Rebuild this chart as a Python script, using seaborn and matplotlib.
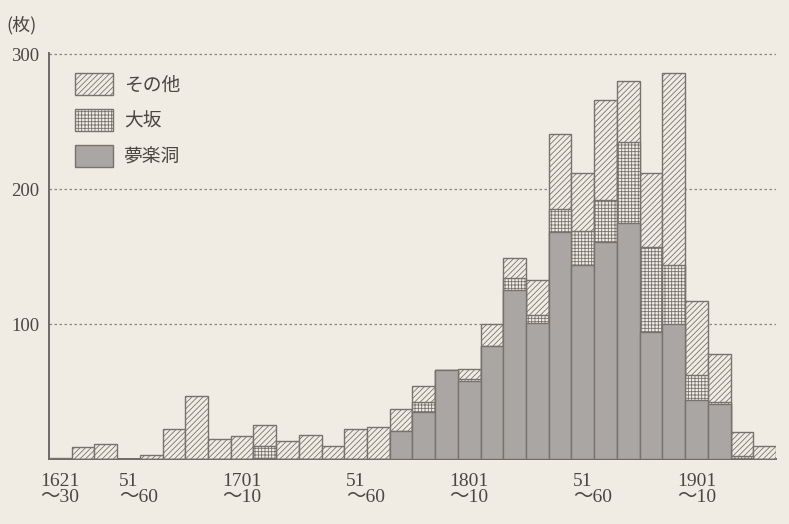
import numpy as np
import pandas as pd
import seaborn as sns
import matplotlib.pyplot as plt
from matplotlib.patches import Patch
from matplotlib.transforms import ScaledTranslation

# decades 1621-30 ... 1931-40
decades = [str(1621 + 10 * i) for i in range(32)]
muraku = [0, 0, 0, 0, 0, 0, 0, 0, 0, 1, 0, 0, 0, 0, 0, 21,
          35, 66, 58, 84, 125, 101, 168, 144, 161, 175, 94, 100, 44, 41, 0, 0]
osaka = [0, 0, 0, 0, 0, 0, 0, 0, 0, 9, 0, 0, 0, 0, 0, 0,
         7, 0, 1, 0, 9, 6, 17, 25, 31, 60, 63, 44, 18, 1, 2, 0]
other = [1, 9, 11, 0, 3, 22, 47, 15, 17, 15, 13, 18, 10, 22, 24, 16,
         12, 0, 8, 16, 15, 26, 56, 43, 74, 45, 55, 142, 55, 36, 18, 10]
names = ['その他', '大坂', '夢楽洞']
tick_idx = [0, 3, 8, 13, 18, 23, 28]
tick_labels = ['1621\n～30', '51\n～60', '1701\n～10', '51\n～60',
               '1801\n～10', '51\n～60', '1901\n～10']

df = pd.DataFrame({'decade': decades, 'muraku': muraku, 'osaka': osaka, 'other': other})
df['lower2'] = df['muraku'] + df['osaka']
df['total'] = df['lower2'] + df['other']

bg = '#f1ece3'
edge = '#77726d'
gray = '#a9a6a3'
txt = '#4a4642'

sns.set_style('white')
plt.rcParams['font.family'] = ['Liberation Serif', 'Noto Sans CJK JP']
plt.rcParams['hatch.linewidth'] = 0.6

fig = plt.figure(figsize=(7.89, 5.24), dpi=100, facecolor=bg)
ax = fig.add_axes([0.062, 0.124, 0.9215, 0.775])
ax.set_facecolor(bg)

# stacked bars drawn back to front
common = dict(x='decade', order=decades, ax=ax, width=1, saturation=1,
              errorbar=None, edgecolor=edge, linewidth=1.0, zorder=3)
sns.barplot(data=df, y='total', color=bg, hatch='//////', **common)
sns.barplot(data=df, y='lower2', color=bg, hatch='+++++', **common)
sns.barplot(data=df, y='muraku', color=gray, **common)

ax.tick_params(axis='y', length=0, pad=7)
ax.tick_params(axis='x', length=0, pad=10)
ax.set_xlim(-0.5, len(decades) - 0.5)
ax.set_ylim(0, 301)
ax.set_yticks([100, 200, 300])
ax.set_yticklabels(['100', '200', '300'], fontsize=13.5, color=txt)
for v in [100, 200, 300]:
    ax.axhline(v, color='#8a8580', lw=0.9, ls=(0, (2, 2)), zorder=1)

ax.set_xticks(tick_idx)
ax.set_xticklabels(tick_labels, fontsize=14, color=txt,
                   linespacing=0.95, multialignment='left')
for lbl in ax.get_xticklabels():
    if lbl.get_text().startswith('51'):
        lbl.set_transform(lbl.get_transform() + ScaledTranslation(0.1, 0, fig.dpi_scale_trans))
ax.set_xlabel('')
ax.set_ylabel('')

for s in ['top', 'right']:
    ax.spines[s].set_visible(False)
for s in ['left', 'bottom']:
    ax.spines[s].set_color('#6e6a66')
    ax.spines[s].set_linewidth(1.4)

handles = [Patch(facecolor=bg, edgecolor=edge, hatch='//////', lw=1.0),
           Patch(facecolor=bg, edgecolor=edge, hatch='+++++', lw=1.0),
           Patch(facecolor=gray, edgecolor=edge, lw=1.0)]
leg = ax.legend(handles, names, loc='upper left', bbox_to_anchor=(0.036, 0.95),
                frameon=False, borderpad=0, borderaxespad=0, handlelength=2.0,
                handleheight=1.45, labelspacing=0.72, handletextpad=0.6,
                prop={'family': ['Noto Sans CJK JP'], 'size': 13.5})
for t in leg.get_texts():
    t.set_color(txt)

fig.text(0.008, 0.952, '(枚)', fontsize=13, color=txt, va='center', ha='left',
         family=['Noto Sans CJK JP'])

fig.savefig('out.png', dpi=100, facecolor=bg)
